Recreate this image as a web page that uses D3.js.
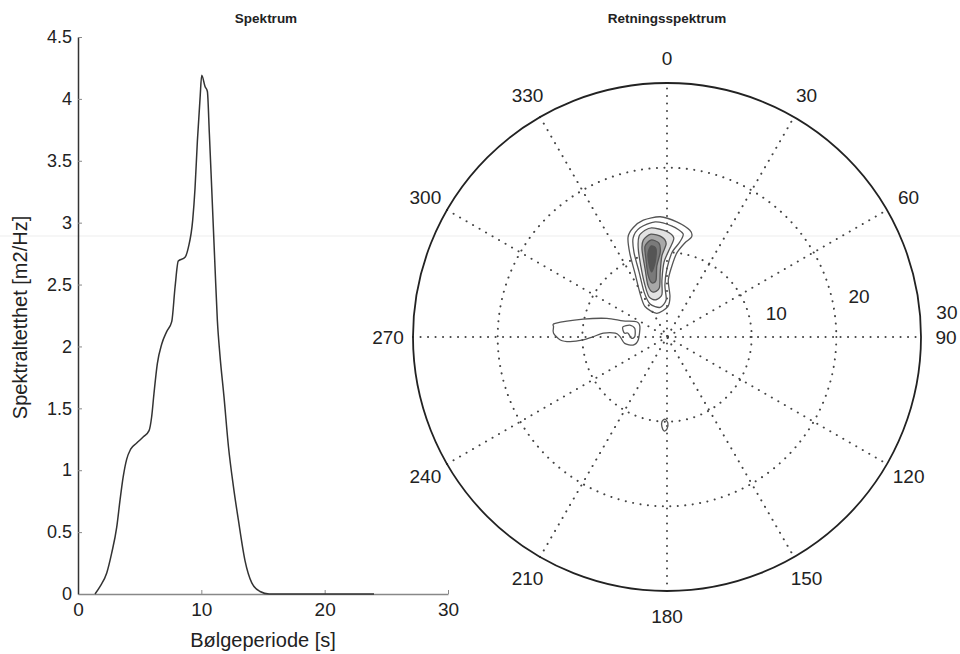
<!DOCTYPE html>
<html>
<head>
<meta charset="utf-8">
<script src="https://cdn.jsdelivr.net/npm/d3@7"></script>
<style>
  body { margin: 0; background: #fff; }
  text { font-family: "Liberation Sans", Arial, sans-serif; fill: #222; }
</style>
</head>
<body>
<div id="chart"></div>
<script>
// spectrum
const periods = [1.38, 1.78, 2.33, 2.73, 3.14, 3.41, 3.67, 3.95, 4.27, 4.76, 5.3, 5.76, 5.97, 6.16, 6.43, 6.79, 7.19, 7.6, 7.87, 8.13, 8.68, 8.95, 9.3, 9.49, 9.68, 9.9, 10.03, 10.3, 10.49, 10.65, 10.84, 11.11, 11.3, 11.5, 11.84, 12.2, 12.6, 13.0, 13.54, 14.09, 14.76, 15.5, 24];
const density = [0, 0.06, 0.17, 0.33, 0.54, 0.76, 0.95, 1.09, 1.17, 1.22, 1.27, 1.32, 1.43, 1.62, 1.86, 2.02, 2.12, 2.2, 2.48, 2.69, 2.72, 2.8, 3.02, 3.28, 3.66, 4.01, 4.19, 4.1, 4.06, 3.72, 3.28, 2.64, 2.21, 1.94, 1.59, 1.19, 0.87, 0.6, 0.27, 0.09, 0.02, 0, 0];
const yTicks = [0, 0.5, 1, 1.5, 2, 2.5, 3, 3.5, 4, 4.5];
const xTicks = [0, 10, 20, 30];

// polar axes
const angleTicks = [0, 30, 60, 90, 120, 150, 180, 210, 240, 270, 300, 330];
const ringTicks = [10, 20, 30];

// directional spectrum contours, [east, north] components in seconds
const mainContours = [
  [[-0.8, 14.2], [1.15, 13.6], [2.7, 12.6], [2.9, 11.8], [2.1, 11.1], [1.15, 9.9], [0.55, 8.3], [0.15, 6.7], [0.35, 4.8], [0.1, 3.6], [-1.2, 2.8], [-2.6, 3.6], [-3.2, 5.2], [-3.8, 7.6], [-4.4, 9.9], [-4.6, 11.8], [-4.0, 12.9], [-2.8, 13.8]],
  [[-1.4, 13.6], [0.6, 13.1], [1.9, 12.2], [1.5, 11.2], [0.6, 10.0], [0.0, 8.1], [-0.25, 6.1], [-0.1, 4.4], [-0.8, 3.5], [-2.0, 3.9], [-2.7, 5.3], [-3.3, 7.7], [-3.9, 10.0], [-4.0, 11.7], [-3.2, 12.9]],
  [[-1.8, 12.9], [-0.1, 12.5], [0.8, 11.7], [0.35, 10.5], [-0.35, 8.85], [-0.6, 6.7], [-0.6, 5.0], [-1.3, 4.4], [-2.1, 4.7], [-2.6, 6.1], [-3.1, 8.4], [-3.4, 10.5], [-3.3, 11.9], [-2.6, 12.6]],
  [[-1.9, 12.15], [-0.6, 11.8], [-0.1, 11.0], [-0.6, 9.6], [-0.8, 7.7], [-0.9, 5.8], [-1.65, 5.3], [-2.25, 6.1], [-2.6, 8.1], [-2.95, 10.3], [-2.8, 11.45]],
  [[-1.9, 11.45], [-0.95, 11.1], [-0.8, 10.0], [-1.2, 8.4], [-1.3, 6.7], [-1.8, 6.4], [-2.25, 7.4], [-2.5, 9.3], [-2.6, 10.7]],
  [[-1.9, 10.75], [-1.3, 10.4], [-1.4, 8.85], [-1.8, 7.7], [-2.1, 8.5], [-2.25, 9.8]]
];
const westContours = [
  [[-13.2, 1.6], [-9.9, 2.1], [-7.1, 2.2], [-5.2, 1.9], [-3.6, 1.8], [-3.2, 1.2], [-3.4, -0.35], [-4.0, -0.95], [-5.0, -0.75], [-5.55, 0.05], [-6.1, 0.45], [-7.5, 0.45], [-8.7, 0.05], [-9.9, -0.35], [-11.45, -0.55], [-12.6, -0.35], [-13.4, 0.45], [-13.4, 1.2]],
  [[-5.2, 1.2], [-4.4, 1.4], [-3.8, 1.0], [-3.8, 0.05], [-4.2, -0.15], [-4.6, 0.45], [-5.0, 0.45], [-5.2, 0.8]]
];
const southContours = [
  [[-0.25, -9.7], [0.1, -10.15], [0.0, -10.85], [-0.35, -11.1], [-0.6, -10.6], [-0.6, -10.0]]
];
const mainFills = ["none", "none", "#e2e2e2", "#a8a8a8", "#7a7a7a", "#555555"];

const W = 960, H = 654;
const svg = d3.select("#chart").append("svg")
  .attr("width", W).attr("height", H)
  .style("display", "block");
svg.append("rect").attr("width", W).attr("height", H).attr("fill", "#fff");

// faint scanner streak across the page
svg.append("line").attr("x1", 0).attr("x2", W).attr("y1", 236).attr("y2", 236)
  .attr("stroke", "#f6f6f6").attr("stroke-width", 2);

// ---------- left: Spektrum ----------
const x = d3.scaleLinear().domain([0, 30]).range([78, 448]);
const y = d3.scaleLinear().domain([0, 4.5]).range([594, 37]);

svg.append("text").attr("x", 266).attr("y", 23)
  .attr("text-anchor", "middle").style("font-size", "13.5px").style("font-weight", "bold")
  .text("Spektrum");

const gx = svg.append("g").attr("transform", `translate(0,${y(0)})`)
  .call(d3.axisBottom(x).tickValues(xTicks).tickSize(-4).tickSizeOuter(0).tickPadding(9));
gx.select(".domain").attr("stroke", "#888").attr("stroke-width", 1.5);
gx.selectAll(".tick line").attr("stroke", "#888");
gx.selectAll("text").style("font-size", "19px").attr("fill", "#222");

const gy = svg.append("g").attr("transform", `translate(${x(0)},0)`)
  .call(d3.axisLeft(y).tickValues(yTicks).tickSize(-4).tickSizeOuter(0).tickPadding(6).tickFormat(d => String(d)));
gy.select(".domain").attr("stroke", "#333").attr("stroke-width", 1.5);
gy.selectAll(".tick line").attr("stroke", "#888");
gy.selectAll("text").style("font-size", "18px").attr("fill", "#222");

svg.append("text").attr("x", 263).attr("y", 647)
  .attr("text-anchor", "middle").style("font-size", "20px")
  .text("Bølgeperiode [s]");
svg.append("text")
  .attr("transform", `translate(27,${(y(0) + y(4.5)) / 2 + 2}) rotate(-90)`)
  .attr("text-anchor", "middle").style("font-size", "20px")
  .text("Spektraltetthet [m2/Hz]");

const spec = periods.map((p, i) => [p, density[i]]);
svg.append("path").datum(spec)
  .attr("fill", "none").attr("stroke", "#333").attr("stroke-width", 1.5)
  .attr("d", d3.line().x(d => x(d[0])).y(d => y(d[1])).curve(d3.curveMonotoneX));

// ---------- right: Retningsspektrum ----------
const cx = 667, cy = 337, R = 254;
const r = d3.scaleLinear().domain([0, 30]).range([0, R]);
const ex = d3.scaleLinear().domain([-30, 30]).range([cx - R, cx + R]);
const ny = d3.scaleLinear().domain([-30, 30]).range([cy + R, cy - R]);
const px = (deg, v) => cx + r(v) * Math.sin(deg * Math.PI / 180);
const py = (deg, v) => cy - r(v) * Math.cos(deg * Math.PI / 180);

svg.append("text").attr("x", 667).attr("y", 23)
  .attr("text-anchor", "middle").style("font-size", "13.5px").style("font-weight", "bold")
  .text("Retningsspektrum");

const polar = svg.append("g");
const dotted = { stroke: "#444", width: 2, dash: "0.1,7.4" };

polar.selectAll("line.spoke").data(angleTicks.filter(a => a < 180)).join("line")
  .attr("class", "spoke")
  .attr("x1", a => px(a + 180, 30) ).attr("y1", a => py(a + 180, 30))
  .attr("x2", a => px(a, 30)).attr("y2", a => py(a, 30))
  .attr("stroke", dotted.stroke).attr("stroke-width", dotted.width)
  .attr("stroke-linecap", "round").attr("stroke-dasharray", dotted.dash);

polar.selectAll("circle.ring").data(ringTicks.slice(0, -1)).join("circle")
  .attr("class", "ring").attr("cx", cx).attr("cy", cy).attr("r", d => r(d))
  .attr("fill", "none").attr("stroke", dotted.stroke).attr("stroke-width", dotted.width)
  .attr("stroke-linecap", "round").attr("stroke-dasharray", dotted.dash);

polar.append("circle").attr("cx", cx).attr("cy", cy).attr("r", r(30))
  .attr("fill", "none").attr("stroke", "#222").attr("stroke-width", 1.8);

// contours
const cline = d3.line().x(d => ex(d[0])).y(d => ny(d[1])).curve(d3.curveCardinalClosed.tension(0.2));
polar.selectAll("path.main").data(mainContours).join("path")
  .attr("class", "main")
  .attr("d", cline)
  .attr("fill", (d, i) => mainFills[i])
  .attr("stroke", "#555").attr("stroke-width", 1.3);
polar.selectAll("path.west").data(westContours.concat(southContours)).join("path")
  .attr("class", "west")
  .attr("d", cline)
  .attr("fill", "none").attr("stroke", "#555").attr("stroke-width", 1.3);

// angle labels
polar.selectAll("text.ang").data(angleTicks).join("text")
  .attr("class", "ang")
  .attr("x", a => cx + (R + 25) * Math.sin(a * Math.PI / 180))
  .attr("y", a => cy - (R + 25) * Math.cos(a * Math.PI / 180))
  .attr("dy", "0.35em").attr("text-anchor", "middle")
  .style("font-size", "19px")
  .text(a => a);

// ring labels
const ringAngle = [78, 78, 85];
polar.selectAll("text.ring").data(ringTicks).join("text")
  .attr("class", "ring")
  .attr("x", (d, i) => cx + (r(d) + 27) * Math.sin(ringAngle[i] * Math.PI / 180))
  .attr("y", (d, i) => cy - (r(d) + 27) * Math.cos(ringAngle[i] * Math.PI / 180))
  .attr("dy", "0.35em").attr("text-anchor", "middle")
  .style("font-size", "19px")
  .text(d => d);
</script>
</body>
</html>
